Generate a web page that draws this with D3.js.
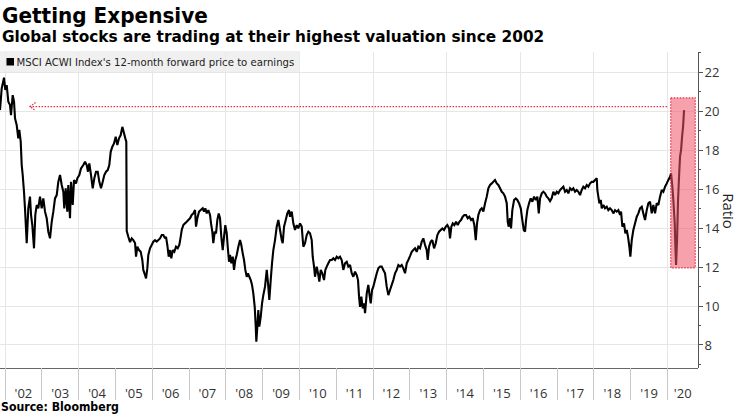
<!DOCTYPE html>
<html><head><meta charset="utf-8">
<script src="https://cdn.jsdelivr.net/npm/d3@7"></script>
<style>
html,body{margin:0;padding:0;background:#fff;}
svg{display:block;}
</style></head>
<body>
<svg id="chart" width="740" height="416"></svg>
<script>
// ---------------- data ----------------
const titleText = "Getting Expensive";
const subtitleText = "Global stocks are trading at their highest valuation since 2002";
const legendText = "MSCI ACWI Index's 12-month forward price to earnings";
const sourceText = "Source: Bloomberg";
const yAxisTitle = "Ratio";

const yTickValues = [8, 10, 12, 14, 16, 18, 20, 22];
const xTickYears = [2002,2003,2004,2005,2006,2007,2008,2009,2010,2011,2012,2013,2014,2015,2016,2017,2018,2019,2020];
const xTickLabels = ["'02","'03","'04","'05","'06","'07","'08","'09","'10","'11","'12","'13","'14","'15","'16","'17","'18","'19","'20"];

// decimal-year dates of the sampled readings
const dates = [
2001.864,2001.910,2001.973,2002.008,2002.046,2002.090,2002.136,2002.163,2002.209,2002.245,
2002.272,2002.318,2002.361,2002.389,2002.427,2002.454,2002.481,2002.516,2002.543,2002.590,
2002.633,2002.679,2002.707,2002.742,2002.788,2002.823,2002.861,2002.905,2002.951,2002.997,
2003.041,2003.087,2003.133,2003.177,2003.223,2003.269,2003.313,2003.359,2003.405,2003.448,
2003.495,2003.541,2003.584,2003.611,2003.649,2003.693,2003.720,2003.766,2003.794,2003.840,
2003.875,2003.929,2003.965,2004.019,2004.065,2004.128,2004.174,2004.220,2004.255,2004.291,
2004.337,2004.383,2004.427,2004.473,2004.519,2004.563,2004.609,2004.655,2004.698,2004.745,
2004.791,2004.834,2004.872,2004.916,2004.962,2005.008,2005.052,2005.098,2005.144,2005.188,
2005.234,2005.269,2005.296,2005.307,2005.351,2005.397,2005.443,2005.486,2005.533,2005.560,
2005.595,2005.641,2005.687,2005.731,2005.758,2005.804,2005.832,2005.867,2005.894,2005.940,
2005.986,2006.030,2006.076,2006.122,2006.166,2006.212,2006.258,2006.302,2006.348,2006.375,
2006.410,2006.448,2006.484,2006.519,2006.557,2006.601,2006.647,2006.693,2006.736,2006.774,
2006.802,2006.845,2006.891,2006.938,2006.981,2007.027,2007.073,2007.117,2007.163,2007.190,
2007.226,2007.272,2007.318,2007.372,2007.408,2007.443,2007.481,2007.525,2007.571,2007.598,
2007.633,2007.660,2007.699,2007.734,2007.769,2007.807,2007.842,2007.878,2007.916,2007.951,
2007.986,2008.025,2008.052,2008.087,2008.114,2008.149,2008.188,2008.223,2008.258,2008.296,
2008.340,2008.386,2008.421,2008.459,2008.495,2008.530,2008.568,2008.603,2008.639,2008.677,
2008.712,2008.747,2008.785,2008.813,2008.829,2008.856,2008.883,2008.910,2008.949,2008.984,
2009.019,2009.065,2009.112,2009.147,2009.182,2009.220,2009.255,2009.291,2009.337,2009.383,
2009.427,2009.473,2009.519,2009.546,2009.582,2009.628,2009.671,2009.717,2009.745,2009.791,
2009.834,2009.880,2009.927,2009.970,2010.016,2010.062,2010.106,2010.152,2010.198,2010.242,
2010.288,2010.334,2010.361,2010.397,2010.424,2010.470,2010.514,2010.541,2010.579,2010.622,
2010.668,2010.704,2010.742,2010.785,2010.832,2010.878,2010.921,2010.967,2011.014,2011.057,
2011.103,2011.149,2011.193,2011.239,2011.285,2011.329,2011.375,2011.421,2011.465,2011.511,
2011.557,2011.592,2011.620,2011.647,2011.682,2011.720,2011.756,2011.783,2011.829,2011.872,
2011.899,2011.937,2011.973,2012.008,2012.054,2012.101,2012.144,2012.190,2012.236,2012.280,
2012.326,2012.372,2012.416,2012.462,2012.508,2012.552,2012.598,2012.644,2012.688,2012.734,
2012.780,2012.823,2012.870,2012.916,2012.959,2013.005,2013.051,2013.095,2013.141,2013.187,
2013.231,2013.277,2013.323,2013.367,2013.413,2013.459,2013.486,2013.522,2013.568,2013.612,
2013.658,2013.704,2013.748,2013.794,2013.840,2013.883,2013.929,2013.976,2014.019,2014.065,
2014.092,2014.128,2014.166,2014.209,2014.255,2014.302,2014.345,2014.391,2014.437,2014.481,
2014.527,2014.573,2014.617,2014.663,2014.709,2014.753,2014.791,2014.826,2014.862,2014.908,
2014.954,2014.998,2015.044,2015.090,2015.133,2015.180,2015.226,2015.269,2015.315,2015.362,
2015.405,2015.451,2015.497,2015.541,2015.587,2015.633,2015.660,2015.687,2015.723,2015.750,
2015.785,2015.832,2015.878,2015.921,2015.967,2016.014,2016.057,2016.095,2016.131,2016.158,
2016.193,2016.239,2016.285,2016.329,2016.375,2016.421,2016.465,2016.503,2016.538,2016.584,
2016.628,2016.674,2016.720,2016.764,2016.810,2016.856,2016.900,2016.946,2016.992,2017.036,
2017.082,2017.128,2017.172,2017.218,2017.264,2017.307,2017.354,2017.400,2017.443,2017.489,
2017.535,2017.579,2017.625,2017.671,2017.715,2017.761,2017.807,2017.851,2017.897,2017.943,
2017.987,2018.033,2018.079,2018.095,2018.122,2018.150,2018.188,2018.215,2018.258,2018.304,
2018.351,2018.394,2018.440,2018.486,2018.530,2018.576,2018.622,2018.666,2018.712,2018.739,
2018.775,2018.821,2018.856,2018.894,2018.929,2018.965,2018.992,2019.030,2019.073,2019.120,
2019.166,2019.209,2019.255,2019.302,2019.345,2019.391,2019.437,2019.481,2019.527,2019.573,
2019.617,2019.663,2019.709,2019.753,2019.799,2019.845,2019.889,2019.935,2019.981,2020.024,
2020.071,2020.098,2020.133,2020.160,2020.198,2020.215,2020.234,2020.261,2020.288,2020.315,
2020.342,2020.370,2020.397,2020.424,2020.451
];

// 12-month forward P/E readings
const peRatio = [
20.05,21.16,21.71,21.08,21.33,20.48,20.31,19.79,20.82,20.48,
19.63,19.28,18.60,19.03,18.43,17.23,16.72,15.86,15.01,13.22,
15.01,15.61,14.67,14.15,12.96,14.67,15.18,15.01,15.61,15.01,
15.52,14.84,14.50,13.81,13.47,14.32,14.84,15.52,15.69,16.37,
16.72,16.21,15.86,15.01,16.04,14.84,16.21,14.50,16.37,15.18,
16.46,16.29,16.55,16.72,17.06,17.23,17.40,17.23,16.89,17.32,
16.72,16.04,16.55,16.89,16.89,16.37,16.04,16.37,16.72,16.89,
16.97,17.23,17.91,18.17,18.34,18.68,18.26,18.60,18.77,19.19,
18.86,18.60,18.43,13.85,13.55,13.28,13.47,13.38,13.23,12.53,
13.04,12.87,12.78,12.36,11.85,11.59,11.42,11.93,12.62,12.96,
13.13,13.30,13.38,13.30,13.38,13.47,13.64,13.64,13.47,13.55,
13.13,12.53,12.87,12.45,12.87,12.78,13.04,12.96,13.13,13.55,
13.90,14.15,14.24,14.32,14.41,14.50,14.67,14.75,14.92,14.07,
14.50,14.84,14.92,15.01,14.84,15.01,14.75,14.92,14.67,14.24,
13.81,13.22,13.81,13.73,14.41,14.75,14.50,13.55,12.87,13.55,
14.15,13.73,13.04,12.27,12.62,12.19,12.53,11.85,12.36,12.62,
13.04,13.38,13.13,12.70,12.36,11.85,11.50,11.68,11.50,11.33,
11.08,10.65,9.96,8.94,8.17,8.94,9.79,8.94,9.45,10.14,
10.56,10.99,11.85,11.16,10.31,11.33,12.19,12.87,13.38,14.07,
14.41,13.90,13.38,13.22,14.07,14.41,14.75,14.92,14.58,14.84,
14.24,13.90,14.15,13.98,14.24,14.07,13.04,13.22,13.64,13.81,
13.73,13.38,12.53,12.02,11.50,12.02,11.59,11.25,11.85,11.68,
11.33,11.85,12.02,12.19,12.36,12.36,12.45,12.36,12.53,12.45,
12.53,12.36,11.85,12.19,12.27,12.02,12.10,11.68,11.50,11.76,
11.59,11.33,10.48,9.96,10.48,9.88,10.14,9.63,10.65,11.08,
10.65,10.14,10.82,10.99,11.33,11.68,11.93,12.02,12.02,11.85,
11.68,10.99,10.56,10.82,11.08,11.33,11.68,11.85,12.10,12.02,
12.10,11.93,11.68,12.19,12.36,12.56,12.78,12.87,12.96,12.78,
13.04,12.96,13.30,13.47,13.13,12.87,12.36,13.04,13.30,13.38,
12.96,13.22,13.64,13.81,13.90,13.98,13.90,14.07,14.15,13.98,
13.47,14.07,14.24,14.15,14.32,14.15,14.32,14.41,14.58,14.67,
14.67,14.50,14.58,14.41,14.50,14.15,13.38,14.24,14.67,14.92,
15.01,14.84,15.27,15.61,16.04,16.21,16.29,16.37,16.46,16.29,
16.21,16.04,15.86,15.78,15.61,15.27,14.32,14.07,14.50,13.98,
14.92,15.44,15.52,15.44,15.27,15.01,14.41,13.90,13.81,14.41,
14.92,15.27,15.52,15.35,15.61,15.44,15.61,14.75,15.52,15.78,
15.86,15.78,15.61,15.52,15.38,15.54,15.86,15.69,15.86,15.78,
15.95,16.04,16.12,15.86,15.95,15.78,16.04,15.95,16.04,15.86,
15.95,15.86,15.69,15.95,16.12,16.04,16.21,16.12,16.29,16.37,
16.37,16.46,16.55,15.95,15.61,15.27,15.44,15.01,15.18,15.01,
15.09,14.92,15.01,14.92,14.75,14.92,14.84,14.92,14.67,14.84,
14.07,14.24,13.73,13.90,13.55,13.04,12.53,13.38,13.90,14.24,
14.58,14.75,15.01,15.09,14.75,14.41,14.92,15.27,15.35,14.75,
15.18,14.75,15.27,15.18,15.61,15.95,15.86,16.12,16.29,16.46,
16.63,16.81,16.12,15.44,14.24,13.04,12.10,13.38,15.44,16.63,
17.66,18.00,18.68,19.19,20.05
];

// annotations (data units)
const highlightYears = [2020.09, 2020.755];
const highlightValues = [11.96, 20.68];
const arrowYears = [2019.99, 2002.68];
const arrowValue = 20.23;

// axis extents (data units)
const xDomain = [2001.864, 2020.83];
const yDomain = [6.82, 23.03];

// ---------------- drawing ----------------
const svg = d3.select("#chart");
const plot = {left: 0, right: 698, top: 52, bottom: 368};

const x = d3.scaleLinear().domain(xDomain).range([plot.left, plot.right]);
const y = d3.scaleLinear().domain(yDomain).range([plot.bottom, plot.top]);

const titleFont = "'DejaVu Sans Condensed','DejaVu Sans',Verdana,sans-serif";
const tickFont = "'Open Sans','Noto Sans',sans-serif";

function fitWidth(sel, target) {
  const w = sel.node().getComputedTextLength();
  if (w > 0) {
    const s = target / w;
    if (s > 0.75 && s < 1.3) {
      const x0 = +sel.attr("x"), y0 = +sel.attr("y");
      sel.attr("transform", `translate(${x0},${y0}) scale(${s},1) translate(${-x0},${-y0})`);
    }
  }
}

// titles
const t1 = svg.append("text").attr("x", 2).attr("y", 23)
  .attr("font-family", titleFont).attr("font-weight", "bold").attr("font-stretch", "condensed")
  .attr("font-size", 22).attr("fill", "#000").text(titleText);
fitWidth(t1, 206);
const t2 = svg.append("text").attr("x", 2).attr("y", 42)
  .attr("font-family", titleFont).attr("font-weight", "bold").attr("font-stretch", "condensed")
  .attr("font-size", 16).attr("fill", "#000").text(subtitleText);
fitWidth(t2, 543);

// gridlines
const grid = svg.append("g");
grid.selectAll("line.h").data(yTickValues).join("line")
  .attr("x1", plot.left).attr("x2", plot.right)
  .attr("y1", d => y(d)).attr("y2", d => y(d))
  .attr("stroke", "#e6e6e6").attr("stroke-width", 1).attr("shape-rendering", "crispEdges");
grid.selectAll("line.v").data(xTickYears.filter(d => d % 2 === 0)).join("line")
  .attr("x1", d => x(d)).attr("x2", d => x(d))
  .attr("y1", plot.top).attr("y2", plot.bottom)
  .attr("stroke", "#e6e6e6").attr("stroke-width", 1).attr("shape-rendering", "crispEdges");

// legend
svg.append("rect").attr("x", 0).attr("y", 51).attr("width", 300).attr("height", 21)
  .attr("fill", "#ececec").attr("opacity", 0.8);
svg.append("rect").attr("x", 6.5).attr("y", 58).attr("width", 7.5).attr("height", 7.5).attr("fill", "#000");
const lg = svg.append("text").attr("x", 16.5).attr("y", 66)
  .attr("font-family", titleFont).attr("font-stretch", "condensed")
  .attr("font-size", 11).attr("fill", "#222").text(legendText);
fitWidth(lg, 278);

// line
const series = dates.map((d, i) => ({t: d, v: peRatio[i]}));
svg.append("path").datum(series)
  .attr("fill", "none").attr("stroke", "#000").attr("stroke-width", 2.1)
  .attr("stroke-linejoin", "miter").attr("stroke-miterlimit", 2)
  .attr("d", d3.line().x(d => x(d.t)).y(d => y(d.v)));

// highlight box
const red = "#e62e44";
svg.append("rect")
  .attr("x", x(highlightYears[0])).attr("y", y(highlightValues[1]))
  .attr("width", x(highlightYears[1]) - x(highlightYears[0]))
  .attr("height", y(highlightValues[0]) - y(highlightValues[1]))
  .attr("fill", "#f05468").attr("fill-opacity", 0.55)
  .attr("stroke", red).attr("stroke-width", 1.2).attr("stroke-dasharray", "1.5,1.5");

// arrow
const ay = y(arrowValue);
svg.append("line").attr("x1", x(arrowYears[0])).attr("x2", x(arrowYears[1]))
  .attr("y1", ay).attr("y2", ay)
  .attr("stroke", red).attr("stroke-width", 1.4).attr("stroke-dasharray", "1.5,1.5");
const ax = x(arrowYears[1]);
svg.append("path").attr("d", `M${ax + 5.5},${ay - 4} L${ax},${ay} L${ax + 5.5},${ay + 4}`)
  .attr("fill", "none").attr("stroke", red).attr("stroke-width", 1.3).attr("stroke-dasharray", "1.5,1.2");

// y axis (right)
const yAxisG = svg.append("g").attr("transform", `translate(${plot.right},0)`);
yAxisG.append("line").attr("x1", 0).attr("x2", 0).attr("y1", plot.top).attr("y2", plot.bottom)
  .attr("stroke", "#555").attr("shape-rendering", "crispEdges");
const minorVals = d3.range(7, 24, 1).filter(v => v >= yDomain[0] && v <= yDomain[1]);
yAxisG.selectAll("line.tk").data(minorVals).join("line")
  .attr("x1", 0).attr("x2", d => d % 2 === 0 ? 5 : 3)
  .attr("y1", d => y(d)).attr("y2", d => y(d))
  .attr("stroke", "#555").attr("shape-rendering", "crispEdges");
yAxisG.selectAll("text").data(yTickValues).join("text")
  .attr("x", 6.5).attr("y", d => y(d)).attr("dy", "0.36em")
  .attr("font-family", tickFont).attr("font-size", 13).attr("fill", "#333")
  .text(d => d);
svg.append("text").attr("transform", "translate(723,211) rotate(90)")
  .attr("text-anchor", "middle").attr("font-family", tickFont).attr("font-size", 15)
  .attr("fill", "#222").text(yAxisTitle);

// x axis
const xAxisG = svg.append("g");
xAxisG.append("line").attr("x1", plot.left).attr("x2", plot.right)
  .attr("y1", plot.bottom).attr("y2", plot.bottom)
  .attr("stroke", "#666").attr("shape-rendering", "crispEdges");
xAxisG.selectAll("line.tk").data(xTickYears).join("line")
  .attr("x1", d => x(d)).attr("x2", d => x(d))
  .attr("y1", plot.bottom).attr("y2", plot.bottom + 32)
  .attr("stroke", "#c8c8c8").attr("shape-rendering", "crispEdges");
xAxisG.selectAll("text").data(xTickYears).join("text")
  .attr("x", d => (x(Math.max(d, xDomain[0])) + x(Math.min(d + 1, xDomain[1]))) / 2)
  .attr("y", 398).attr("text-anchor", "middle")
  .attr("font-family", tickFont).attr("font-size", 13).attr("fill", "#333")
  .text((d, i) => xTickLabels[i]);

// source
const src = svg.append("text").attr("x", 1).attr("y", 411)
  .attr("font-family", titleFont).attr("font-weight", "bold").attr("font-stretch", "condensed")
  .attr("font-size", 11.5).attr("fill", "#000").text(sourceText);
fitWidth(src, 118);
</script>
</body></html>
